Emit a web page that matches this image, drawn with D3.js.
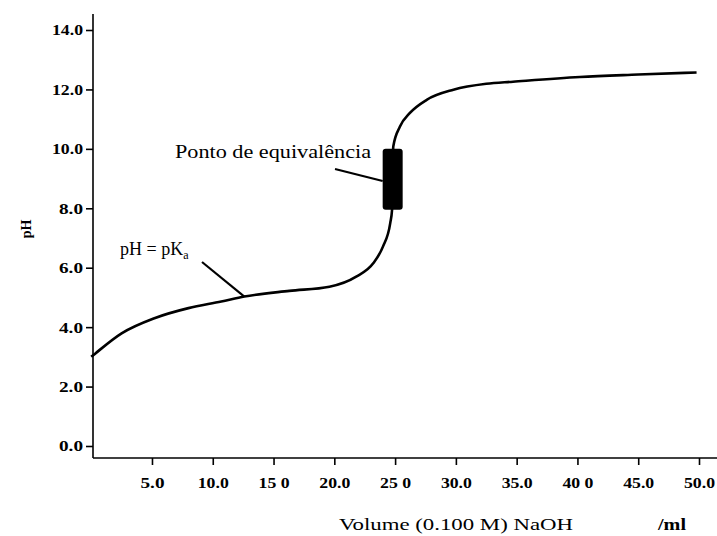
<!DOCTYPE html>
<html>
<head>
<meta charset="utf-8">
<script src="https://cdn.jsdelivr.net/npm/d3@7"></script>
<style>
  html, body { margin: 0; padding: 0; background: #fff; }
  svg { display: block; }
</style>
</head>
<body>
<svg id="chart" width="717" height="536"></svg>
<script>
// ---- data ----
const volume = [0, 0.3, 2.5, 5.2, 8, 10.7, 12.6, 16.3, 19.6, 21.8, 23.2, 24.0, 24.6, 24.75, 24.85, 25.4, 26.2, 27.6, 29.8, 32.5, 34.7, 40.2, 45, 49.8];
const pH     = [3.0, 3.1, 3.79, 4.30, 4.64, 4.86, 5.03, 5.22, 5.36, 5.70, 6.15, 6.71, 7.50, 7.95, 10.08, 10.75, 11.2, 11.65, 11.99, 12.19, 12.26, 12.42, 12.5, 12.57];
const xTicks = [5, 10, 15, 20, 25, 30, 35, 40, 45, 50];
const xTickLabels = ["5.0", "10.0", "15 0", "20.0", "25 0", "30.0", "35.0", "40 0", "45.0", "50.0"];
const yTicks = [0, 2, 4, 6, 8, 10, 12, 14];
const yTickLabels = ["0.0", "2.0", "4.0", "6.0", "8.0", "10.0", "12.0", "14.0"];
const equivalence = { volume: 24.8, pHLow: 7.95, pHHigh: 10.0 };
const pKaPoint = { volume: 12.6, pH: 5.03 };
const xTitle = "Volume (0.100 M) NaOH";
const xUnit = "/ml";
const yTitle = "pH";
const eqLabel = "Ponto de equivalência";

const SERIF = "'Liberation Serif', 'DejaVu Serif', serif";

// ---- layout ----
const svg = d3.select("#chart");
const x = d3.scaleLinear().domain([0, 50]).range([91.2, 699]);
const y = d3.scaleLinear().domain([0, 14]).range([446, 30]);
const axisY = 458; // x-axis baseline
const axisX = 93;  // y-axis line

// axes lines
svg.append("line").attr("x1", axisX).attr("x2", axisX).attr("y1", 14).attr("y2", axisY)
  .attr("stroke", "#000").attr("stroke-width", 1.6);
svg.append("line").attr("x1", axisX).attr("x2", 717).attr("y1", axisY).attr("y2", axisY)
  .attr("stroke", "#000").attr("stroke-width", 1.6);

// y ticks
const yAxis = d3.axisLeft(y).tickValues(yTicks).tickSize(7).tickFormat((d, i) => yTickLabels[i]);
const gy = svg.append("g").attr("transform", `translate(${axisX},0)`).call(yAxis)
  .attr("font-family", null).attr("font-size", null);
gy.select(".domain").remove();
gy.selectAll(".tick line").attr("stroke", "#000").attr("stroke-width", 1.6);
gy.selectAll(".tick text")
  .attr("x", -10).attr("dy", "0.35em")
  .style("font-family", SERIF)
  .style("font-weight", "bold").style("font-size", "14px")
  .attr("textLength", (d, i) => yTickLabels[i].length === 4 ? 31 : 24)
  .attr("lengthAdjust", "spacingAndGlyphs");

// x ticks
const xAxis = d3.axisBottom(x).tickValues(xTicks).tickSize(7).tickFormat((d, i) => xTickLabels[i]);
const gx = svg.append("g").attr("transform", `translate(0,${axisY})`).call(xAxis)
  .attr("font-family", null).attr("font-size", null);
gx.select(".domain").remove();
gx.selectAll(".tick line").attr("stroke", "#000").attr("stroke-width", 1.6);
gx.selectAll(".tick text")
  .attr("y", 20).attr("dy", "0.71em")
  .style("font-family", SERIF)
  .style("font-weight", "bold").style("font-size", "14px")
  .attr("textLength", (d, i) => xTickLabels[i].length === 4 ? 31 : 24)
  .attr("lengthAdjust", "spacingAndGlyphs");

// axis titles
svg.append("text").attr("x", 339).attr("y", 530)
  .style("font-family", SERIF).style("font-size", "17px")
  .attr("textLength", 234).attr("lengthAdjust", "spacingAndGlyphs")
  .text(xTitle);
svg.append("text").attr("x", 658).attr("y", 530)
  .style("font-family", SERIF).style("font-size", "17px").style("font-weight", "bold")
  .attr("textLength", 28).attr("lengthAdjust", "spacingAndGlyphs")
  .text(xUnit);
svg.append("text").attr("transform", "translate(31,229) rotate(-90)")
  .attr("text-anchor", "middle")
  .style("font-family", SERIF).style("font-size", "14px").style("font-weight", "bold")
  .text(yTitle);

// curve
const pts = volume.map((v, i) => [v, pH[i]]);
const line = d3.line().x(d => x(d[0])).y(d => y(d[1])).curve(d3.curveMonotoneX);
svg.append("path").attr("d", line(pts)).attr("fill", "none")
  .attr("stroke", "#000").attr("stroke-width", 2.6).attr("stroke-linejoin", "round");

// equivalence point marker
const rw = 20;
svg.append("rect")
  .attr("x", x(equivalence.volume) - rw / 2)
  .attr("y", y(equivalence.pHHigh))
  .attr("width", rw)
  .attr("height", y(equivalence.pHLow) - y(equivalence.pHHigh))
  .attr("rx", 3).attr("fill", "#000");

// equivalence label + pointer
svg.append("text").attr("x", 175).attr("y", 158)
  .style("font-family", SERIF).style("font-size", "18px")
  .attr("textLength", 196).attr("lengthAdjust", "spacingAndGlyphs")
  .text(eqLabel);
svg.append("line").attr("x1", 335).attr("y1", 169)
  .attr("x2", x(equivalence.volume) - rw / 2).attr("y2", 181)
  .attr("stroke", "#000").attr("stroke-width", 2.2);

// pH = pKa label + pointer
const pk = svg.append("text").attr("x", 120).attr("y", 255)
  .style("font-family", SERIF).style("font-size", "18px");
pk.append("tspan").text("pH = pK");
pk.append("tspan").attr("dy", 4).style("font-size", "12px").text("a");
svg.append("line").attr("x1", 202).attr("y1", 262)
  .attr("x2", x(pKaPoint.volume)).attr("y2", y(pKaPoint.pH))
  .attr("stroke", "#000").attr("stroke-width", 2.2);
</script>
</body>
</html>
